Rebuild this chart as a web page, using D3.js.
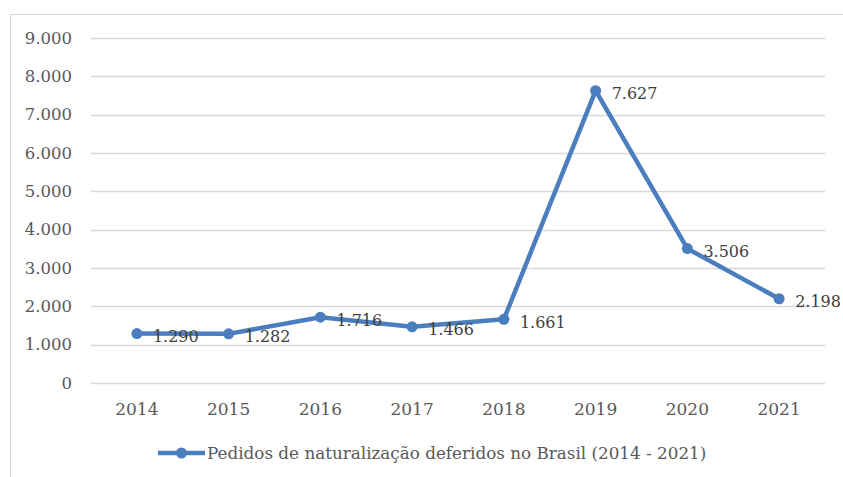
<!DOCTYPE html>
<html>
<head>
<meta charset="utf-8">
<script src="https://cdn.jsdelivr.net/npm/d3@7"></script>
<style>
  body { margin: 0; background: #fff; }
  text { font-family: "DejaVu Serif", serif; fill: #595959; }
</style>
</head>
<body>
<div id="chart"></div>
<script>
// data
const years = ["2014", "2015", "2016", "2017", "2018", "2019", "2020", "2021"];
const pedidos = [1290, 1282, 1716, 1466, 1661, 7627, 3506, 2198];
const yTicks = [0, 1000, 2000, 3000, 4000, 5000, 6000, 7000, 8000, 9000];
const legendLabel = "Pedidos de naturalização deferidos no Brasil (2014 - 2021)";

const W = 843, H = 477;
const margin = {top: 38, right: 18, bottom: 94, left: 91};
const width = W - margin.left - margin.right;
const height = H - margin.top - margin.bottom;
const blue = "#4a7ebf";

const fmt = d => d3.format(",")(d).replace(/,/g, ".");

const svg = d3.select("#chart").append("svg")
    .attr("width", W)
    .attr("height", H);

// frame
svg.append("line").attr("x1", 10.5).attr("x2", W).attr("y1", 14.5).attr("y2", 14.5)
    .style("stroke", "#d9d9d9").style("stroke-width", 1);
svg.append("line").attr("x1", 10.5).attr("x2", 10.5).attr("y1", 14.5).attr("y2", H)
    .style("stroke", "#d9d9d9").style("stroke-width", 1);

const g = svg.append("g")
    .attr("transform", "translate(" + margin.left + "," + margin.top + ")");

const x = d3.scaleBand()
    .domain(years)
    .range([0, width]);

const y = d3.scaleLinear()
    .domain([0, 9000])
    .range([height, 0]);

// gridlines
g.selectAll(".grid")
    .data(yTicks)
    .enter().append("line")
    .attr("class", "grid")
    .attr("x1", 0)
    .attr("x2", width)
    .attr("y1", d => Math.round(y(d)) + 0.5)
    .attr("y2", d => Math.round(y(d)) + 0.5)
    .style("stroke", "#d9d9d9")
    .style("stroke-width", 1.3);

// y labels
g.selectAll(".ylab")
    .data(yTicks)
    .enter().append("text")
    .attr("class", "ylab")
    .attr("x", -19)
    .attr("y", d => y(d))
    .attr("dy", "0.35em")
    .attr("text-anchor", "end")
    .style("font-size", "16.5px")
    .text(fmt);

// x labels
g.selectAll(".xlab")
    .data(years)
    .enter().append("text")
    .attr("class", "xlab")
    .attr("x", d => x(d) + x.bandwidth() / 2)
    .attr("y", height + 32)
    .attr("text-anchor", "middle")
    .style("font-size", "17px")
    .text(d => d);

// line
const line = d3.line()
    .x((d, i) => x(years[i]) + x.bandwidth() / 2)
    .y(d => y(d));

g.append("path")
    .datum(pedidos)
    .attr("d", line)
    .style("fill", "none")
    .style("stroke", blue)
    .style("stroke-width", 4.5)
    .style("stroke-linejoin", "round");

g.selectAll(".dot")
    .data(pedidos)
    .enter().append("circle")
    .attr("class", "dot")
    .attr("cx", (d, i) => x(years[i]) + x.bandwidth() / 2)
    .attr("cy", d => y(d))
    .attr("r", 5.5)
    .style("fill", blue);

// value labels
g.selectAll(".val")
    .data(pedidos)
    .enter().append("text")
    .attr("class", "val")
    .attr("x", (d, i) => x(years[i]) + x.bandwidth() / 2 + 16)
    .attr("y", d => y(d) + 3)
    .attr("dy", "0.35em")
    .style("font-size", "16px")
    .style("fill", "#404040")
    .text(fmt);

// legend
const leg = svg.append("g")
    .attr("transform", "translate(158," + 453 + ")");
leg.append("line")
    .attr("x1", 0).attr("x2", 47)
    .attr("y1", 0).attr("y2", 0)
    .style("stroke", blue)
    .style("stroke-width", 4.5);
leg.append("circle")
    .attr("cx", 23.5).attr("cy", 0).attr("r", 5.5)
    .style("fill", blue);
leg.append("text")
    .attr("x", 49)
    .attr("y", 0)
    .attr("dy", "0.35em")
    .style("font-size", "16.8px")
    .text(legendLabel);
</script>
</body>
</html>
